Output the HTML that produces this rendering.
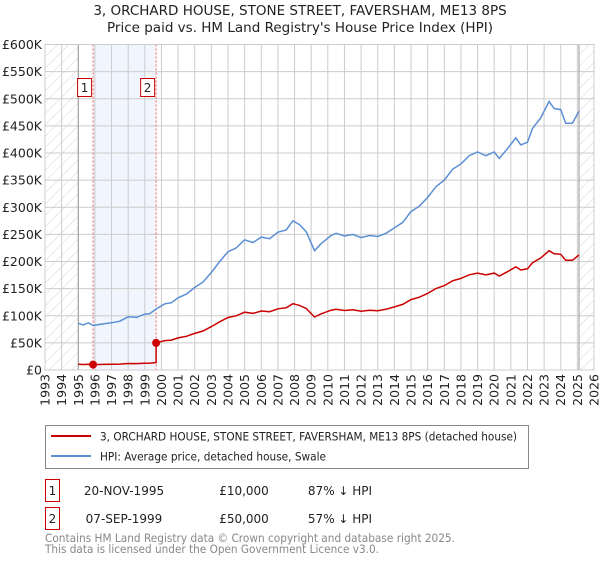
<!DOCTYPE html>
<html><head><meta charset="utf-8">
<style>
body{margin:0;background:#fff;font-family:"DejaVu Sans","Liberation Sans",sans-serif;}
svg text{font-family:"DejaVu Sans","Liberation Sans",sans-serif;}
</style></head>
<body>
<svg id="c" width="600" height="560" xmlns="http://www.w3.org/2000/svg">
<defs>
<pattern id="hatch" width="8" height="8" patternUnits="userSpaceOnUse" patternTransform="rotate(45)">
<line x1="0" y1="0" x2="0" y2="8" stroke="#d4d4d4" stroke-width="1"/>
</pattern>
</defs>
<text x="300" y="15" text-anchor="middle" font-size="13.5" fill="#222">3, ORCHARD HOUSE, STONE STREET, FAVERSHAM, ME13 8PS</text>
<text x="300" y="32" text-anchor="middle" font-size="13.5" fill="#222">Price paid vs. HM Land Registry's House Price Index (HPI)</text>
<g id="plot"></g>
<g>
<rect x="45.5" y="425.5" width="483" height="43" fill="#fff" stroke="#888"/>
<line x1="51" y1="436" x2="91" y2="436" stroke="#cc0000" stroke-width="2"/>
<text x="100" y="440.5" font-size="11.5" fill="#222" textLength="417" lengthAdjust="spacingAndGlyphs">3, ORCHARD HOUSE, STONE STREET, FAVERSHAM, ME13 8PS (detached house)</text>
<line x1="51" y1="456" x2="91" y2="456" stroke="#5b8fd4" stroke-width="2"/>
<text x="100" y="460.5" font-size="11.5" fill="#222" textLength="226" lengthAdjust="spacingAndGlyphs">HPI: Average price, detached house, Swale</text>
</g>
<g font-size="12" fill="#222">
<rect x="45.5" y="479.5" width="14" height="22" fill="#fff" stroke="#cc0000"/>
<text x="52.5" y="495" text-anchor="middle">1</text>
<text x="124" y="495" text-anchor="middle">20-NOV-1995</text>
<text x="244" y="495" text-anchor="middle">£10,000</text>
<text x="340" y="495" text-anchor="middle">87% ↓ HPI</text>
<rect x="45.5" y="507.5" width="14" height="22" fill="#fff" stroke="#cc0000"/>
<text x="52.5" y="523" text-anchor="middle">2</text>
<text x="124" y="523" text-anchor="middle">07-SEP-1999</text>
<text x="244" y="523" text-anchor="middle">£50,000</text>
<text x="340" y="523" text-anchor="middle">57% ↓ HPI</text>
</g>
<text x="45" y="542" font-size="11.5" fill="#888" textLength="410" lengthAdjust="spacingAndGlyphs">Contains HM Land Registry data © Crown copyright and database right 2025.</text>
<text x="45" y="553" font-size="11.5" fill="#888" textLength="334" lengthAdjust="spacingAndGlyphs">This data is licensed under the Open Government Licence v3.0.</text>
</svg>
<script>
const yTicks=[0,50000,100000,150000,200000,250000,300000,350000,400000,450000,500000,550000,600000];
const yTickLabels=["£0","£50K","£100K","£150K","£200K","£250K","£300K","£350K","£400K","£450K","£500K","£550K","£600K"];
const years=[1993,1994,1995,1996,1997,1998,1999,2000,2001,2002,2003,2004,2005,2006,2007,2008,2009,2010,2011,2012,2013,2014,2015,2016,2017,2018,2019,2020,2021,2022,2023,2024,2025,2026];
const hpiT=[1995.0,1995.3,1995.6,1995.9,1996.5,1997,1997.5,1998,1998.5,1999,1999.3,1999.7,2000.2,2000.6,2001,2001.5,2002,2002.5,2003,2003.5,2004,2004.5,2005,2005.5,2006,2006.5,2007,2007.5,2007.9,2008.3,2008.7,2009.2,2009.6,2010.2,2010.5,2011,2011.5,2012,2012.5,2013,2013.5,2014,2014.5,2015,2015.5,2016,2016.5,2017,2017.5,2018,2018.5,2019,2019.5,2020,2020.3,2020.8,2021.3,2021.6,2022,2022.3,2022.8,2023.3,2023.6,2024,2024.3,2024.7,2025.1];
const hpiV=[86000,83000,87000,82000,85000,87000,90000,98000,97000,103000,104000,113000,122000,124000,133000,140000,152000,162000,180000,200000,218000,225000,240000,235000,245000,242000,254000,258000,275000,268000,255000,220000,233000,248000,252000,247000,250000,244000,248000,246000,252000,262000,272000,292000,302000,318000,338000,350000,370000,380000,395000,402000,395000,402000,390000,408000,428000,415000,420000,445000,465000,495000,482000,480000,455000,455000,477000];
const saleT=[1995.89,1999.68];
const saleV=[10000,50000];
const X0=45,X1=594,Y0=370,Y1=44.5;
const x=t=>X0+(t-1993)/(2026-1993)*(X1-X0);
const y=v=>Y0-v/600000*(Y0-Y1);
const NS="http://www.w3.org/2000/svg";
const g=document.getElementById('plot');
function mk(tag,at){const e=document.createElementNS(NS,tag);for(const k in at)e.setAttribute(k,at[k]);g.appendChild(e);return e;}
function hpiAt(t){for(let i=1;i<hpiT.length;i++){if(t<=hpiT[i]){const f=(t-hpiT[i-1])/(hpiT[i]-hpiT[i-1]);return hpiV[i-1]+f*(hpiV[i]-hpiV[i-1]);}}return hpiV[hpiV.length-1];}
let e;
e=mk('rect',{x:x(1993),y:Y1,width:x(1995)-x(1993),height:Y0-Y1,fill:'url(#hatch)'});

e=mk('rect',{x:x(2025.1),y:Y1,width:X1-x(2025.1),height:Y0-Y1,fill:'url(#hatch)'});

e=mk('rect',{x:x(saleT[0]),y:Y1,width:x(saleT[1])-x(saleT[0]),height:Y0-Y1,fill:'#eef3fc',opacity:0.8});

years.forEach(yr=>{e=mk('line',{x1:x(yr),x2:x(yr),y1:Y1,y2:Y0,stroke:'#ccc','stroke-width':1});

const tx=mk('text',{x:0,y:0,transform:`translate(${x(yr)+4.5},${Y0+4}) rotate(-90)`,'text-anchor':'end','font-size':12.5,fill:'#222'});tx.textContent=yr;
});
yTicks.forEach((v,i)=>{e=mk('line',{x1:X0,x2:X1,y1:y(v),y2:y(v),stroke:'#ccc','stroke-width':1});

const tx=mk('text',{x:X0-3,y:y(v)+4.5,'text-anchor':'end','font-size':12.5,fill:'#222'});tx.textContent=yTickLabels[i];
});
e=mk('line',{x1:x(1995),x2:x(1995),y1:Y1,y2:Y0,stroke:'#999','stroke-width':1});

e=mk('line',{x1:x(2025.1),x2:x(2025.1),y1:Y1,y2:Y0,stroke:'#999','stroke-width':1});

saleT.forEach((t,i)=>{e=mk('line',{x1:x(t),x2:x(t),y1:Y1,y2:Y0,stroke:'#f06060','stroke-width':1,'stroke-dasharray':'2,2'});
});
e=mk('path',{d:hpiT.map((t,i)=>(i?'L':'M')+x(t).toFixed(1)+','+y(hpiV[i]).toFixed(1)).join(''),fill:'none',stroke:'#5b8fd4','stroke-width':1.5});

const pts=[];
hpiT.forEach((t,i)=>{let s=0;if(t>=saleT[1])s=1;const base=saleV[s]/hpiAt(saleT[s]);
if(i>0&&hpiT[i-1]<saleT[1]&&t>=saleT[1]){pts.push([saleT[1],saleV[0]/hpiAt(saleT[0])*hpiAt(saleT[1])]);pts.push([saleT[1],saleV[1]]);}
pts.push([t,hpiV[i]*base]);});
e=mk('path',{d:pts.map((p,i)=>(i?'L':'M')+x(p[0]).toFixed(1)+','+y(p[1]).toFixed(1)).join(''),fill:'none',stroke:'#cc0000','stroke-width':1.5});

saleT.forEach((t,i)=>{e=mk('circle',{cx:x(t),cy:y(saleV[i]),r:4,fill:'#cc0000'});

const r=mk('rect',{x:x(t)-15.5,y:78.5,width:14,height:18,fill:'#fff',stroke:'#cc0000'});

const tx=mk('text',{x:x(t)-8.5,y:92,'text-anchor':'middle','font-size':12,fill:'#222'});tx.textContent=String(i+1);
});
e=mk('rect',{x:X0,y:Y1,width:X1-X0,height:Y0-Y1,fill:'none',stroke:'#ccc'});

</script>
</body></html>
